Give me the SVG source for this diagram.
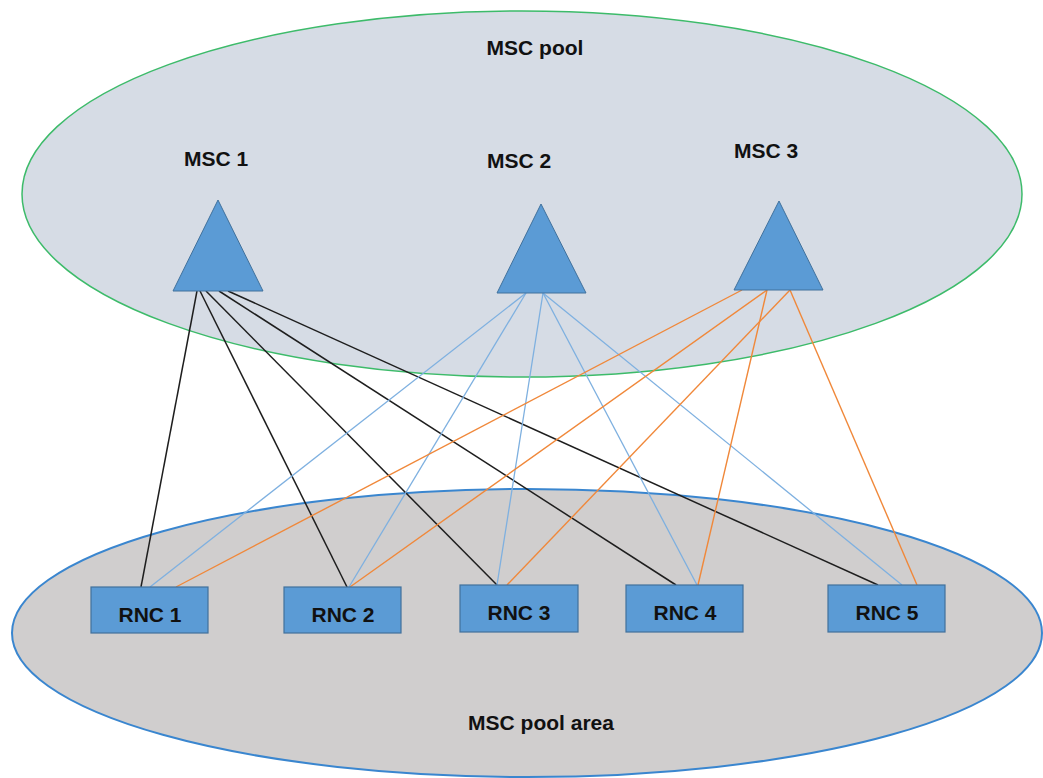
<svg xmlns="http://www.w3.org/2000/svg" width="1043" height="778" viewBox="0 0 1043 778">
  <style>
    .lbl { font-family: "Liberation Sans", Arial, sans-serif; font-weight: bold; font-size: 21px; fill: #111; text-anchor: middle; }
    .msc { fill: #5B9BD5; stroke: #41719C; stroke-width: 1; }
    .rnc { fill: #5B9BD5; stroke: #41719C; stroke-width: 1.2; }
    .k { stroke: #1E1E1E; stroke-width: 1.5; fill: none; }
    .b { stroke: #7EB0E0; stroke-width: 1.3; fill: none; }
    .o { stroke: #F0883A; stroke-width: 1.4; fill: none; }
  </style>

  <rect width="1043" height="778" fill="#FFFFFF"/>

  <!-- pool regions -->
  <g id="msc-pool">
    <ellipse cx="522" cy="194" rx="500" ry="183" fill="#D6DCE5" stroke="#3DBB6A" stroke-width="1.5"/>
    <text class="lbl" x="535" y="55">MSC pool</text>
  </g>
  <g id="msc-pool-area">
    <ellipse cx="527" cy="633" rx="515" ry="144" fill="#D0CECE" stroke="#3A86CF" stroke-width="2"/>
    <text class="lbl" x="541" y="730">MSC pool area</text>
  </g>

  <!-- connectors -->
  <g id="connectors">
    <!-- MSC 1 -->
    <line class="k" x1="197" y1="291" x2="141" y2="587"/>
    <line class="k" x1="200" y1="291" x2="347" y2="587"/>
    <line class="k" x1="206" y1="291" x2="497" y2="585"/>
    <line class="k" x1="219" y1="291" x2="676" y2="585"/>
    <line class="k" x1="228" y1="291" x2="878" y2="585"/>
    <!-- MSC 2 -->
    <line class="b" x1="526" y1="293" x2="150" y2="587"/>
    <line class="b" x1="526" y1="293" x2="349" y2="587"/>
    <line class="b" x1="543" y1="293" x2="497" y2="585"/>
    <line class="b" x1="543" y1="293" x2="697" y2="585"/>
    <line class="b" x1="543" y1="293" x2="902" y2="585"/>
    <!-- MSC 3 -->
    <line class="o" x1="742" y1="290" x2="176" y2="587"/>
    <line class="o" x1="767" y1="290" x2="350" y2="587"/>
    <line class="o" x1="790" y1="290" x2="507" y2="585"/>
    <line class="o" x1="767" y1="290" x2="698" y2="585"/>
    <line class="o" x1="790" y1="290" x2="917" y2="585"/>
  </g>

  <!-- MSC nodes -->
  <g id="msc1">
    <polygon class="msc" points="218,200 263,291 173,291"/>
    <text class="lbl" x="216" y="166">MSC 1</text>
  </g>
  <g id="msc2">
    <polygon class="msc" points="541,204 586,293 497,293"/>
    <text class="lbl" x="519" y="168">MSC 2</text>
  </g>
  <g id="msc3">
    <polygon class="msc" points="779,201 823,290 734,290"/>
    <text class="lbl" x="766" y="158">MSC 3</text>
  </g>

  <!-- RNC nodes -->
  <g id="rnc1">
    <rect class="rnc" x="91" y="587" width="117" height="46"/>
    <text class="lbl" x="150" y="622">RNC 1</text>
  </g>
  <g id="rnc2">
    <rect class="rnc" x="284" y="587" width="117" height="46"/>
    <text class="lbl" x="343" y="622">RNC 2</text>
  </g>
  <g id="rnc3">
    <rect class="rnc" x="460" y="585" width="118" height="47"/>
    <text class="lbl" x="519" y="620">RNC 3</text>
  </g>
  <g id="rnc4">
    <rect class="rnc" x="626" y="585" width="117" height="47"/>
    <text class="lbl" x="685" y="620">RNC 4</text>
  </g>
  <g id="rnc5">
    <rect class="rnc" x="828" y="585" width="117" height="47"/>
    <text class="lbl" x="887" y="620">RNC 5</text>
  </g>
</svg>
